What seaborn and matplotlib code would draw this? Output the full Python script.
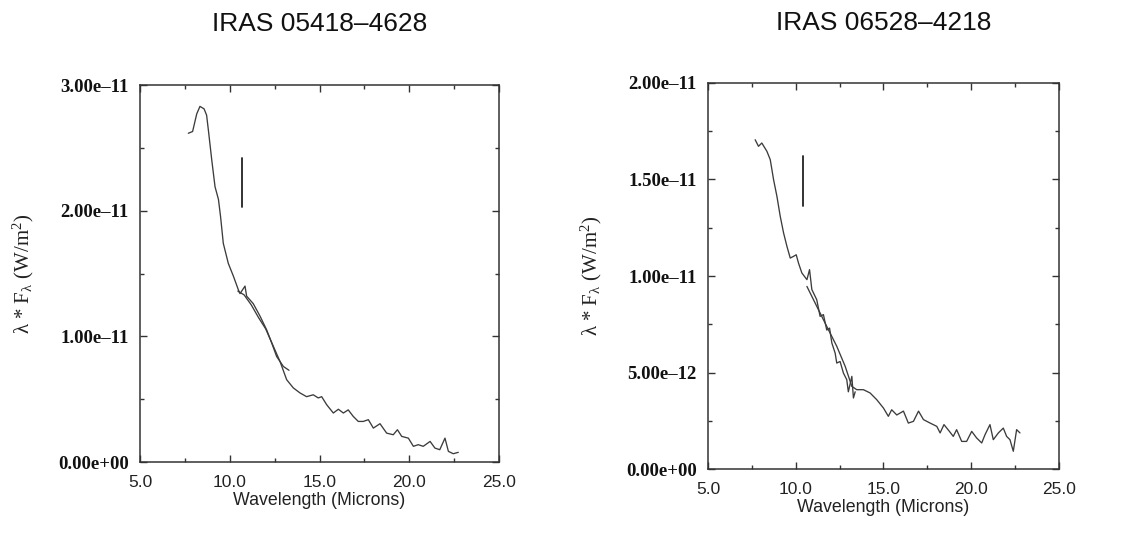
import numpy as np
import pandas as pd
import matplotlib
matplotlib.use("Agg")
import matplotlib.pyplot as plt
from matplotlib.ticker import MultipleLocator
import seaborn as sns

# ---------------- data ----------------
titles = ["IRAS 05418\u20134628", "IRAS 06528\u20134218"]

# Left panel: short-wavelength segment (blue) and long-wavelength segment (red), units 1e-11 W/m^2
l_blue_wl = [7.69, 7.93, 8.16, 8.34, 8.57, 8.71, 8.81, 9.00, 9.18, 9.37, 9.49, 9.64, 9.92,
             10.20, 10.48, 10.57, 10.85, 10.94, 11.31, 11.69, 12.06, 12.34, 12.61, 12.99, 13.30]
l_blue_f = [2.616, 2.63, 2.77, 2.83, 2.81, 2.76, 2.64, 2.40, 2.19, 2.09, 1.95, 1.74, 1.58,
            1.48, 1.37, 1.34, 1.40, 1.32, 1.26, 1.16, 1.05, 0.946, 0.84, 0.76, 0.73]
l_red_wl = [10.45, 10.80, 11.20, 11.60, 12.00, 12.40, 12.80, 13.17, 13.54, 13.91, 14.28, 14.65,
            14.93, 15.12, 15.40, 15.77, 16.05, 16.33, 16.60, 16.88, 17.16, 17.44, 17.72, 18.00,
            18.37, 18.74, 19.11, 19.34, 19.58, 19.95, 20.23, 20.50, 20.78, 21.16, 21.43, 21.70,
            21.99, 22.18, 22.45, 22.73]
l_red_f = [1.36, 1.33, 1.25, 1.15, 1.06, 0.93, 0.80, 0.655, 0.59, 0.55, 0.52, 0.535,
           0.51, 0.52, 0.456, 0.39, 0.42, 0.39, 0.415, 0.363, 0.323, 0.323, 0.337, 0.27,
           0.305, 0.23, 0.217, 0.257, 0.204, 0.19, 0.125, 0.138, 0.125, 0.164, 0.111, 0.098,
           0.19, 0.085, 0.066, 0.077]
l_bar_wl = [10.70, 10.70]
l_bar_f = [2.417, 2.028]

# Right panel
r_blue_wl = [7.69, 7.88, 8.07, 8.36, 8.55, 8.74, 8.93, 9.12, 9.31, 9.50, 9.69, 9.88, 10.03,
             10.16, 10.35, 10.64, 10.79, 10.92, 11.20, 11.39, 11.58, 11.77, 11.93, 12.06,
             12.25, 12.34, 12.53, 12.72, 12.91, 13.00, 13.20, 13.29, 13.39]
r_blue_f = [1.706, 1.672, 1.689, 1.646, 1.603, 1.499, 1.413, 1.309, 1.223, 1.154, 1.093, 1.102, 1.11,
            1.067, 1.016, 0.981, 1.033, 0.93, 0.877, 0.791, 0.80, 0.72, 0.73, 0.653,
            0.60, 0.549, 0.557, 0.497, 0.463, 0.40, 0.48, 0.368, 0.40]
r_red_wl = [10.64, 11.20, 11.77, 12.34, 12.82, 13.20, 13.48, 13.86, 14.24, 14.62, 15.00, 15.28,
            15.47, 15.76, 16.14, 16.42, 16.71, 17.00, 17.28, 17.66, 18.04, 18.23, 18.45, 18.76,
            18.98, 19.17, 19.46, 19.74, 20.03, 20.31, 20.60, 20.79, 21.07, 21.26, 21.55, 21.83,
            22.02, 22.21, 22.40, 22.59, 22.78]
r_red_f = [0.946, 0.843, 0.739, 0.636, 0.532, 0.428, 0.411, 0.411, 0.394, 0.359, 0.316, 0.273,
           0.307, 0.28, 0.30, 0.238, 0.247, 0.30, 0.256, 0.238, 0.221, 0.187, 0.23, 0.195,
           0.169, 0.204, 0.143, 0.143, 0.195, 0.161, 0.135, 0.178, 0.23, 0.152, 0.187, 0.212,
           0.169, 0.152, 0.092, 0.204, 0.187]
r_bar_wl = [10.41, 10.41]
r_bar_f = [1.62, 1.364]

x_ticks = [5.0, 10.0, 15.0, 20.0, 25.0]
x_ticklabels = ["5.0", "10.0", "15.0", "20.0", "25.0"]
l_yticks = [0.0, 1.0e-11, 2.0e-11, 3.0e-11]
l_yticklabels = ["0.00e+00", "1.00e\u201311", "2.00e\u201311", "3.00e\u201311"]
r_yticks = [0.0, 5.0e-12, 1.0e-11, 1.5e-11, 2.0e-11]
r_yticklabels = ["0.00e+00", "5.00e\u201312", "1.00e\u201311", "1.50e\u201311", "2.00e\u201311"]

SCALE = 1e-11

# ---------------- figure ----------------
sns.set_style("ticks")
plt.rcParams["font.family"] = ["Liberation Sans", "DejaVu Sans"]
plt.rcParams["mathtext.fontset"] = "custom"
plt.rcParams["mathtext.rm"] = "Liberation Serif"
plt.rcParams["mathtext.it"] = "Liberation Serif"

fig = plt.figure(figsize=(11.3, 5.46), dpi=100)
fig.patch.set_facecolor("white")
ax_l = fig.add_axes([0.1239, 0.1538, 0.3177, 0.6905])
ax_r = fig.add_axes([0.6265, 0.1410, 0.3106, 0.7070])

line_color = "#3c3c3c"
panels = [
    (ax_l, l_blue_wl, l_blue_f, l_red_wl, l_red_f, l_bar_wl, l_bar_f, 3.0e-11, l_yticks, l_yticklabels, 0.5e-11),
    (ax_r, r_blue_wl, r_blue_f, r_red_wl, r_red_f, r_bar_wl, r_bar_f, 2.0e-11, r_yticks, r_yticklabels, 2.5e-12),
]
title_y = [1 - 24 / 546, 1 - 23 / 546]

for i, (ax, bwl, bf, rwl, rf, barwl, barf, ymax, yt, ytl, yminor) in enumerate(panels):
    df_b = pd.DataFrame({"wl": bwl, "f": np.array(bf) * SCALE})
    df_r = pd.DataFrame({"wl": rwl, "f": np.array(rf) * SCALE})
    df_bar = pd.DataFrame({"wl": barwl, "f": np.array(barf) * SCALE})
    sns.lineplot(data=df_b, x="wl", y="f", ax=ax, color=line_color, lw=0.95, sort=False, estimator=None)
    sns.lineplot(data=df_r, x="wl", y="f", ax=ax, color=line_color, lw=0.95, sort=False, estimator=None)
    sns.lineplot(data=df_bar, x="wl", y="f", ax=ax, color="#222222", lw=1.3, sort=False, estimator=None)

    ax.set_xlim(5, 25)
    ax.set_ylim(0, ymax)
    ax.set_xticks(x_ticks)
    ax.set_xticklabels(x_ticklabels, fontsize=12.5, family=["Liberation Sans"], color="#222222")
    ax.set_yticks(yt)
    ax.set_yticklabels(ytl, fontsize=13.5, family=["Liberation Serif"], fontweight="bold", color="#111111")
    ax.xaxis.set_minor_locator(MultipleLocator(2.5))
    ax.yaxis.set_minor_locator(MultipleLocator(yminor))
    ax.tick_params(which="both", direction="in", top=True, right=True, color="#333333", width=1.0)
    ax.tick_params(which="major", length=5)
    ax.tick_params(axis="x", which="major", pad=9)
    ax.tick_params(axis="y", which="major", pad=8)
    ax.tick_params(which="minor", length=3)
    for s in ax.spines.values():
        s.set_color("#333333")
        s.set_linewidth(1.1)
    ax.set_xlabel("Wavelength (Microns)", fontsize=12.8, color="#222222", labelpad=2)
    ax.set_ylabel("\u03bb * F$_{\u03bb}$ (W/m$^2$)", fontsize=15, family=["Liberation Serif"],
                  color="#222222", labelpad=16)
    ax.set_facecolor("white")
    pos = ax.get_position()
    fig.text(pos.x0 + pos.width / 2, title_y[i], titles[i],
             ha="center", va="center", fontsize=19, color="#111111")

fig.savefig("out.png", dpi=100, facecolor="white")
